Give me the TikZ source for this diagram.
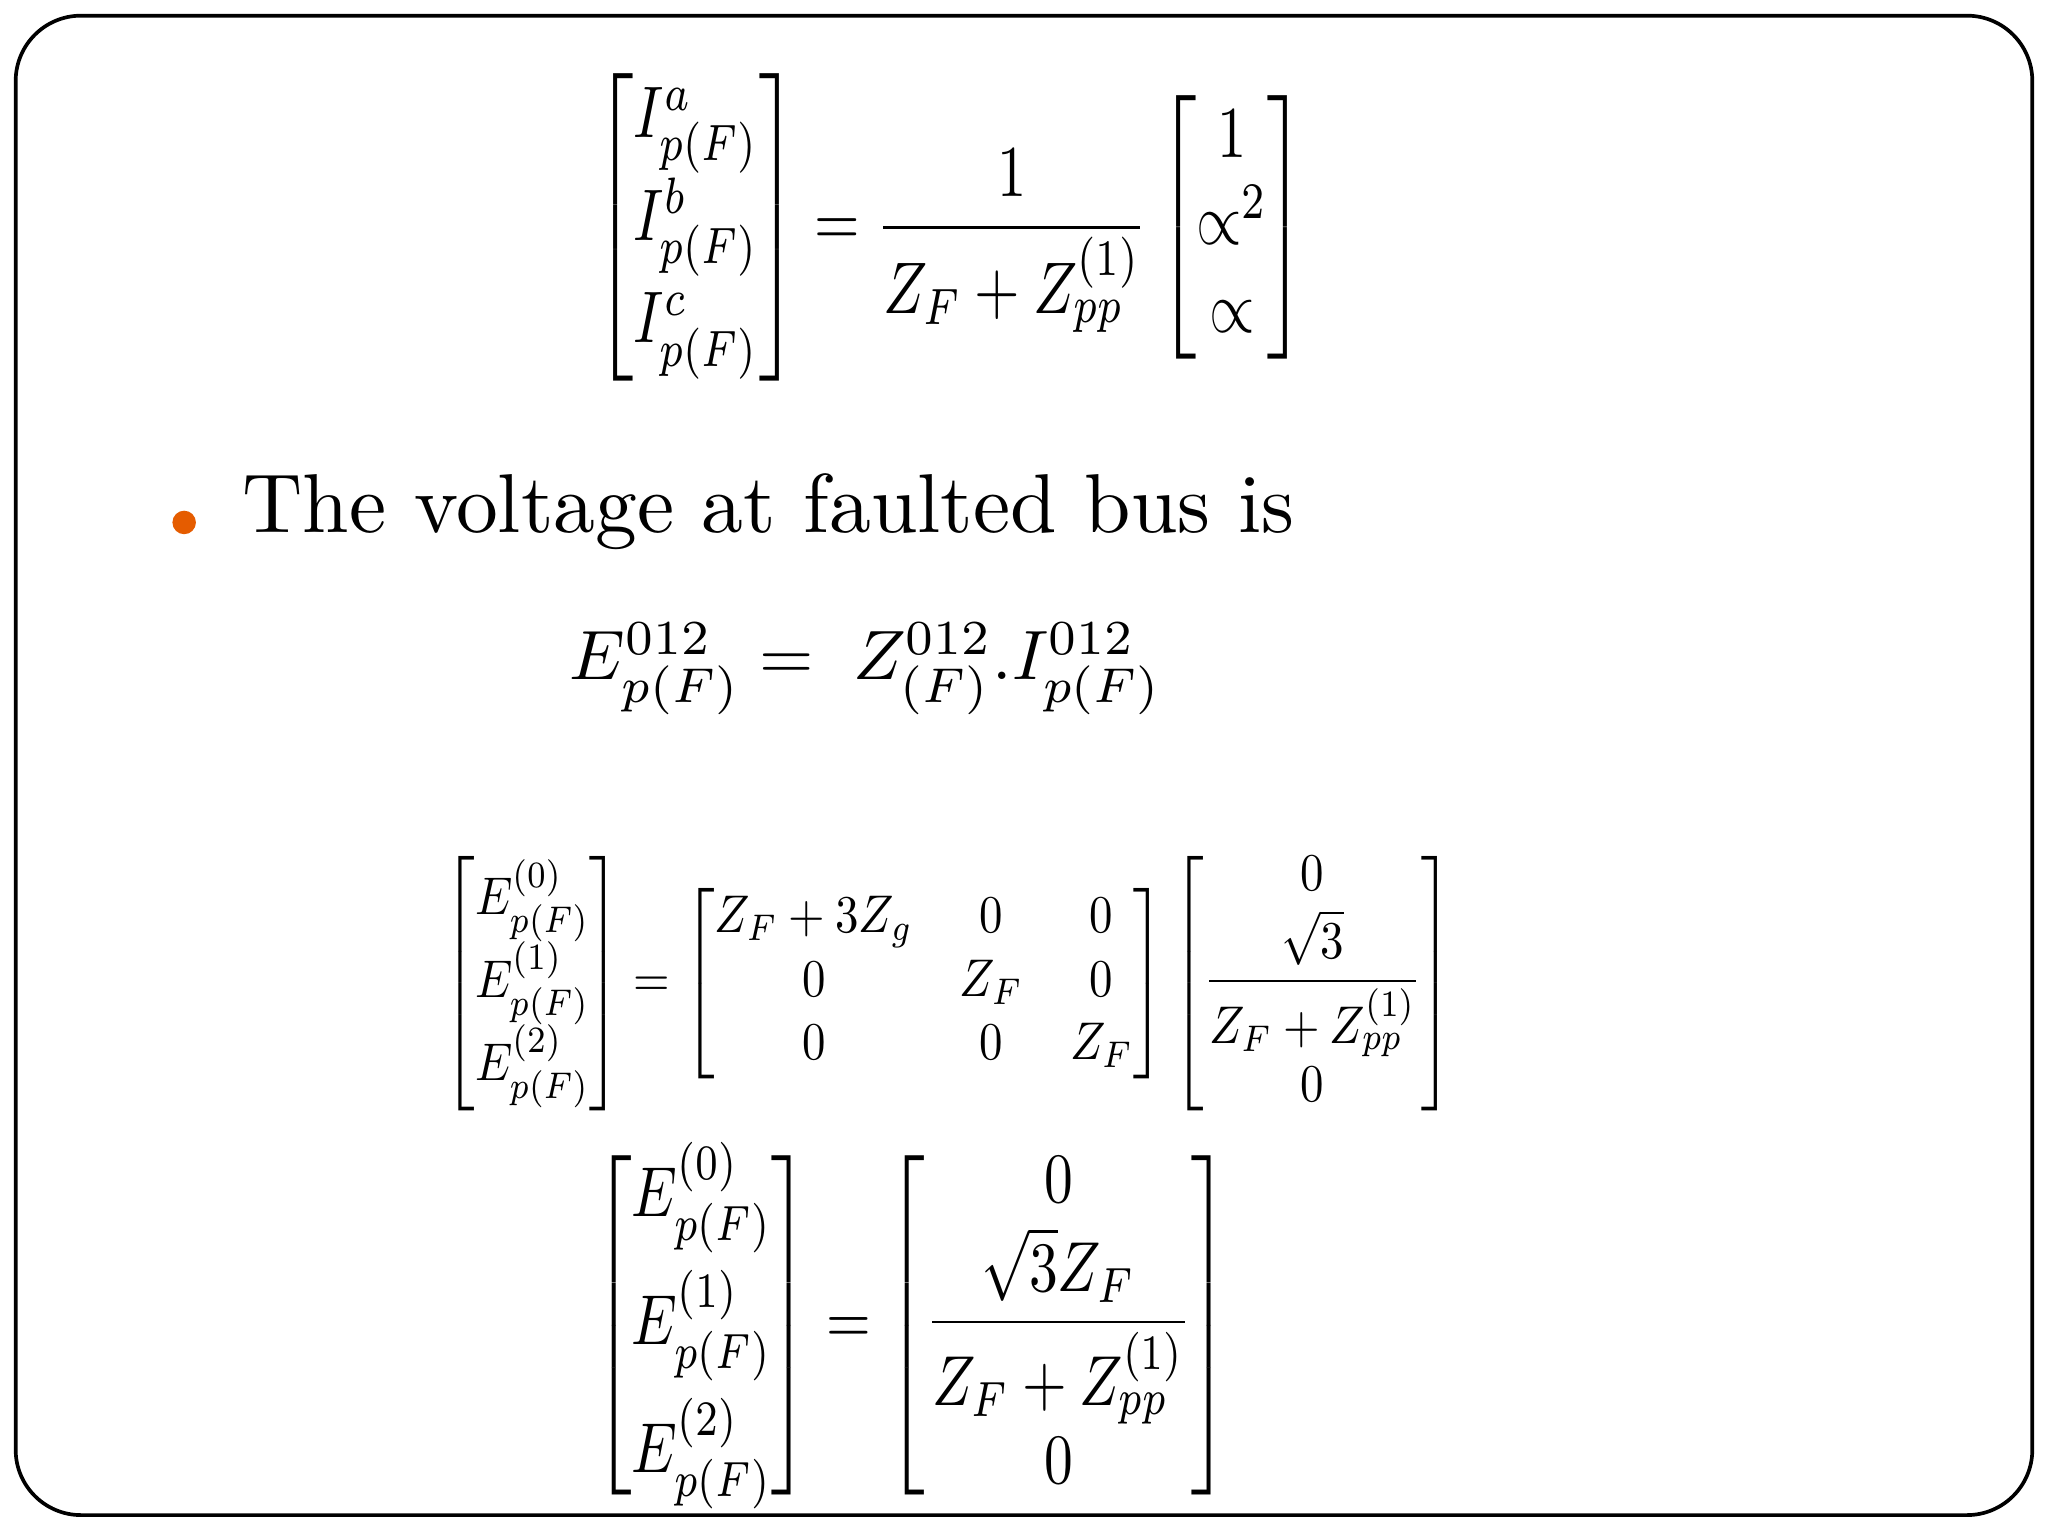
\documentclass[tikz,border=0pt]{standalone}
\usepackage{amsmath,graphicx}
\begin{document}
\begin{tikzpicture}[x=0.01cm,y=-0.01cm]
\tikzset{eq/.style={anchor=center,inner sep=0pt}}
\useasboundingbox (0,0) rectangle (1568,1176);
\draw[line width=0.8pt,rounded corners=0.5cm] (12,12) rectangle (1556,1160);
\node[eq] (e1) at (728,174) {\resizebox*{5.45cm}{2.35cm}{$\begin{bmatrix}I^a_{p(F)}\\[2pt] I^b_{p(F)}\\[2pt] I^c_{p(F)}\end{bmatrix}=\dfrac{1}{Z_F+Z^{(1)}_{pp}}\begin{bmatrix}1\\ \propto^2\\ \propto\end{bmatrix}$}};
\fill[orange!80!red!90!black] (141,400) circle (9);
\node[eq,anchor=west] (t) at (185,392) {\resizebox{8.05cm}{!}{The voltage at faulted bus is}};
\node[eq] (e2) at (663,512) {\resizebox{4.53cm}{!}{$E^{012}_{p(F)}=\;Z^{012}_{(F)}.I^{012}_{p(F)}$}};
\node[eq] (e3) at (726,753) {\resizebox*{7.72cm}{2.1cm}{$\begin{bmatrix}E^{(0)}_{p(F)}\\ E^{(1)}_{p(F)}\\ E^{(2)}_{p(F)}\end{bmatrix}=\begin{bmatrix}Z_F+3Z_g&0&0\\0&Z_F&0\\0&0&Z_F\end{bmatrix}\begin{bmatrix}0\\ \dfrac{\sqrt3}{Z_F+Z^{(1)}_{pp}}\\ 0\end{bmatrix}$}};
\node[eq] (e4) at (698,1015) {\resizebox*{4.87cm}{2.8cm}{$\begin{bmatrix}E^{(0)}_{p(F)}\\[4pt] E^{(1)}_{p(F)}\\[4pt] E^{(2)}_{p(F)}\end{bmatrix}=\begin{bmatrix}0\\ \dfrac{\sqrt3Z_F}{Z_F+Z^{(1)}_{pp}}\\ 0\end{bmatrix}$}};
\end{tikzpicture}
\end{document}
